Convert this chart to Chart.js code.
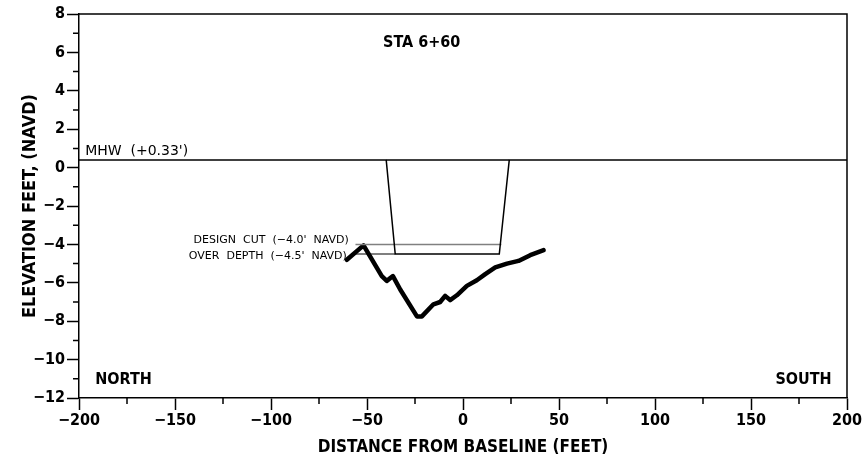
<!DOCTYPE html>
<html>
<head>
<meta charset="utf-8"/>
<title>STA 6+60</title>
<script src="https://cdn.jsdelivr.net/npm/chart.js@4.4.1/dist/chart.umd.min.js"></script>
<style>
  html, body { margin: 0; padding: 0; background: #fff; }
  #wrap { width: 867px; height: 466px; }
</style>
</head>
<body>
<div id="wrap"><canvas id="c"></canvas></div>
<script>
// surveyed bottom profile (feet from baseline, elevation ft NAVD)
const profileX = [-60.5, -51.8, -42.3, -39.7, -36.5, -32.7, -24.0, -21.4, -15.4, -11.9, -9.3, -6.7, -3.2, 2.0, 7.2, 11.6, 16.8, 22.9, 28.9, 35.0, 42.0];
const profileY = [-4.8, -4.05, -5.65, -5.9, -5.65, -6.35, -7.75, -7.75, -7.12, -7.0, -6.68, -6.9, -6.65, -6.16, -5.87, -5.55, -5.2, -5.0, -4.86, -4.56, -4.3];

// channel template
const channelX = [-40.0, -35.3, 18.9, 24.1];
const channelY = [0.4, -4.5, -4.5, 0.4];

const mhwElev = 0.4;
const designCut = -4.0;
const overDepth = -4.5;
const cutLineX = [-56, 20.0];
const overLineX = [-56, -35.3];

const xTicks = [-200, -150, -100, -50, 0, 50, 100, 150, 200];
const yTicks = [-12, -10, -8, -6, -4, -2, 0, 2, 4, 6, 8];

const pts = (xs, ys) => xs.map((x, i) => ({ x: x, y: ys[i] }));
const COND = "'DejaVu Sans Condensed', 'DejaVu Sans', sans-serif";
const NORM = "'DejaVu Sans', sans-serif";

const extras = {
  id: 'extras',
  afterDraw(chart) {
    const { ctx, chartArea: a, scales: { x, y } } = chart;
    ctx.save();
    // frame top / right
    ctx.strokeStyle = '#000';
    ctx.lineWidth = 1.5;
    ctx.beginPath();
    ctx.moveTo(a.left, a.top);
    ctx.lineTo(a.right, a.top);
    ctx.lineTo(a.right, a.bottom);
    ctx.stroke();
    // minor ticks
    ctx.beginPath();
    for (let v = -175; v < 200; v += 50) {
      const px = x.getPixelForValue(v);
      ctx.moveTo(px, a.bottom);
      ctx.lineTo(px, a.bottom + 6);
    }
    for (let v = -11; v < 8; v += 2) {
      const py = y.getPixelForValue(v);
      ctx.moveTo(a.left, py);
      ctx.lineTo(a.left - 6, py);
    }
    ctx.stroke();

    ctx.fillStyle = '#000';
    ctx.textBaseline = 'middle';
    ctx.font = 'bold 16px ' + COND;
    ctx.textAlign = 'center';
    ctx.fillText('STA 6+60', x.getPixelForValue(-21.5), y.getPixelForValue(6.5));
    ctx.textAlign = 'left';
    ctx.fillText('NORTH', x.getPixelForValue(-191.5), y.getPixelForValue(-11.05));
    ctx.textAlign = 'right';
    ctx.fillText('SOUTH', x.getPixelForValue(192), y.getPixelForValue(-11.05));

    ctx.font = '14px ' + NORM;
    ctx.textAlign = 'left';
    ctx.fillText("MHW  (+0.33')", x.getPixelForValue(-196.8), y.getPixelForValue(mhwElev + 0.45));

    ctx.font = '11px ' + NORM;
    ctx.textAlign = 'right';
    ctx.fillText("DESIGN  CUT  (\u22124.0'  NAVD)", x.getPixelForValue(-59.5), y.getPixelForValue(designCut + 0.22));
    ctx.fillText("OVER  DEPTH  (\u22124.5'  NAVD)", x.getPixelForValue(-60.5), y.getPixelForValue(overDepth - 0.12));
    ctx.restore();
  }
};

new Chart(document.getElementById('c'), {
  type: 'scatter',
  data: {
    datasets: [
      { data: [{ x: -200, y: mhwElev }, { x: 200, y: mhwElev }], borderColor: '#000', borderWidth: 1.5 },
      { data: pts(channelX, channelY), borderColor: '#000', borderWidth: 1.5 },
      { data: pts(cutLineX, [designCut, designCut]), borderColor: '#808080', borderWidth: 1.5 },
      { data: pts(overLineX, [overDepth, overDepth]), borderColor: '#000', borderWidth: 1.2 },
      { data: pts(profileX, profileY), borderColor: '#000', borderWidth: 4.5, borderJoinStyle: 'round', borderCapStyle: 'round' }
    ]
  },
  options: {
    responsive: true,
    maintainAspectRatio: false,
    animation: false,
    showLine: true,
    elements: { point: { radius: 0 }, line: { tension: 0 } },
    layout: { padding: { top: 14, right: 20, left: 0, bottom: 0 } },
    plugins: { legend: { display: false }, tooltip: { enabled: false } },
    scales: {
      x: {
        type: 'linear', min: -200, max: 200,
        afterBuildTicks: s => { s.ticks = xTicks.map(v => ({ value: v })); },
        afterFit: s => { s.height = 68; },
        ticks: { color: '#000', font: { family: COND, size: 16, weight: 'bold' }, padding: 1, maxRotation: 0,
                 callback: v => String(v).replace('-', '\u2212') },
        grid: { drawOnChartArea: false, tickLength: 12, tickColor: '#000', tickWidth: 1.5 },
        border: { color: '#000', width: 1.5 },
        title: { display: true, text: 'DISTANCE FROM BASELINE (FEET)', color: '#000',
                 font: { family: COND, size: 17, weight: 'bold' }, padding: { top: 0, bottom: 8 } }
      },
      y: {
        type: 'linear', min: -12, max: 8,
        afterBuildTicks: s => { s.ticks = yTicks.map(v => ({ value: v })); },
        afterFit: s => { s.width = 79; },
        ticks: { color: '#000', font: { family: COND, size: 16, weight: 'bold' }, padding: 2,
                 callback: v => String(v).replace('-', '\u2212') },
        grid: { drawOnChartArea: false, tickLength: 12, tickColor: '#000', tickWidth: 1.5 },
        border: { color: '#000', width: 1.5 },
        title: { display: true, text: 'ELEVATION FEET, (NAVD)', color: '#000',
                 font: { family: COND, size: 18, weight: 'bold' }, padding: { top: 20, bottom: 0 } }
      }
    }
  },
  plugins: [extras]
});
</script>
</body>
</html>
